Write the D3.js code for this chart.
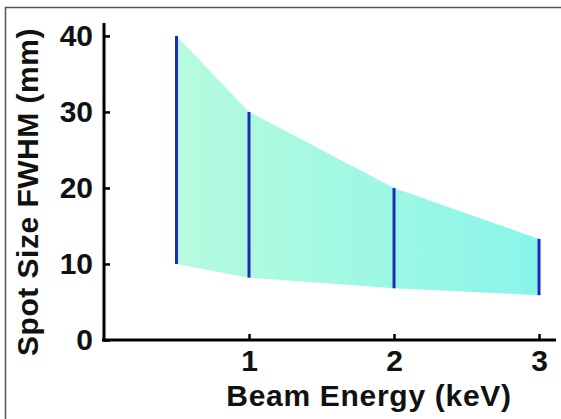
<!DOCTYPE html>
<html>
<head>
<meta charset="utf-8">
<script src="https://cdn.jsdelivr.net/npm/d3@7"></script>
<style>
  html, body { margin: 0; padding: 0; background: #fff; }
  svg { display: block; }
  text { font-family: "Liberation Sans", Arial, Helvetica, sans-serif; font-weight: bold; fill: #111; }
</style>
</head>
<body>
<svg id="chart" width="561" height="419"></svg>
<script>
const energies = [0.5, 1, 2, 3];
const upperSize = [40, 30, 20, 13.3];
const lowerSize = [10, 8.2, 6.8, 5.9];
const xTicks = [1, 2, 3];
const yTicks = [0, 10, 20, 30, 40];
const xLabel = "Beam Energy (keV)";
const yLabel = "Spot Size FWHM (mm)";

const data = energies.map((e, i) => ({ e, hi: upperSize[i], lo: lowerSize[i] }));

const svg = d3.select("#chart");
const x = d3.scaleLinear().domain([0, 3.117]).range([104, 556]);
const y = d3.scaleLinear().domain([0, 41.7]).range([340, 23]);

// frame
svg.append("rect").attr("x", 5.5).attr("y", 7.5).attr("width", 600).attr("height", 500)
  .attr("fill", "none").attr("stroke", "#555").attr("stroke-width", 1.5);

// gradient
const defs = svg.append("defs");
const grad = defs.append("linearGradient").attr("id", "fillGrad")
  .attr("gradientUnits", "userSpaceOnUse")
  .attr("x1", x(energies[0])).attr("x2", x(energies[energies.length - 1]))
  .attr("y1", 0).attr("y2", 0);
grad.append("stop").attr("offset", "0%").attr("stop-color", "#b6fbdf");
grad.append("stop").attr("offset", "50%").attr("stop-color", "#a0f8e3");
grad.append("stop").attr("offset", "100%").attr("stop-color", "#8af4ea");

const area = d3.area().x(d => x(d.e)).y0(d => y(d.lo)).y1(d => y(d.hi));
svg.append("path").datum(data).attr("d", area).attr("fill", "url(#fillGrad)");

// blue vertical lines
svg.append("g").selectAll("line").data(data).join("line")
  .attr("x1", d => x(d.e)).attr("x2", d => x(d.e))
  .attr("y1", d => y(d.lo)).attr("y2", d => y(d.hi))
  .attr("stroke", "#1e2bb8").attr("stroke-width", 3);

// axes
const xAxis = d3.axisBottom(x).tickValues(xTicks).tickSize(-6).tickPadding(10).tickFormat(d3.format("d"));
const yAxis = d3.axisLeft(y).tickValues(yTicks).tickSize(-6).tickPadding(11).tickFormat(d3.format("d"));

const gx = svg.append("g").attr("transform", `translate(0,${y(0)})`).call(xAxis);
gx.select(".domain").remove();
gx.selectAll(".tick line").attr("stroke", "#000").attr("stroke-width", 2.5);
gx.selectAll(".tick text").attr("font-size", 30).attr("dy", "0.71em")
  .attr("font-family", "Liberation Sans, Arial, sans-serif").attr("font-weight", "bold").attr("fill", "#111");

const gy = svg.append("g").attr("transform", `translate(${x(0)},0)`).call(yAxis);
gy.select(".domain").remove();
gy.selectAll(".tick line").attr("stroke", "#000").attr("stroke-width", 2.5);
gy.selectAll(".tick text").attr("font-size", 30)
  .attr("font-family", "Liberation Sans, Arial, sans-serif").attr("font-weight", "bold").attr("fill", "#111");

// axis lines
svg.append("line").attr("x1", x(0) - 2).attr("x2", 556).attr("y1", y(0)).attr("y2", y(0))
  .attr("stroke", "#000").attr("stroke-width", 3);
svg.append("line").attr("x1", x(0)).attr("x2", x(0)).attr("y1", 23).attr("y2", y(0) + 1.5)
  .attr("stroke", "#000").attr("stroke-width", 3);

// labels
svg.append("text").attr("x", 369).attr("y", 406).attr("text-anchor", "middle")
  .attr("font-size", 30).attr("letter-spacing", 0.7).text(xLabel);
svg.append("text").attr("transform", "translate(38,192) rotate(-90)").attr("text-anchor", "middle")
  .attr("font-size", 30).attr("letter-spacing", 0.5).text(yLabel);
</script>
</body>
</html>
